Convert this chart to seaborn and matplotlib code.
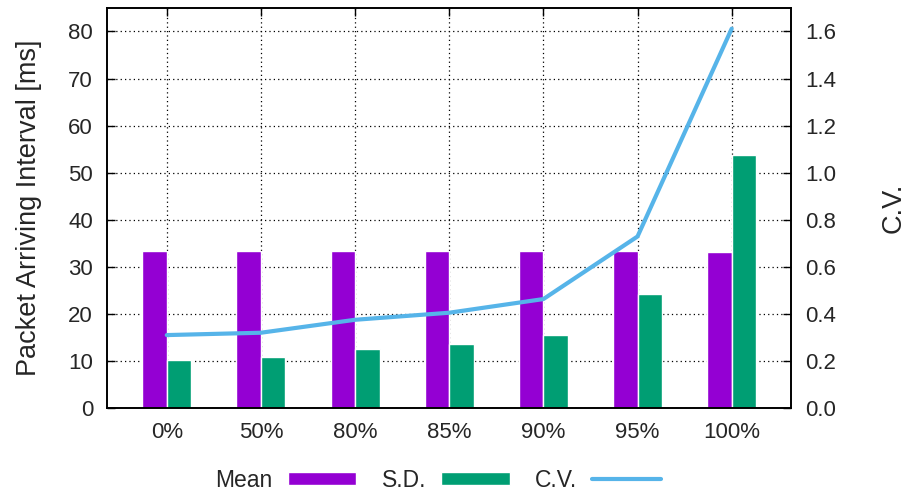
import numpy as np
import pandas as pd
import seaborn as sns
import matplotlib
matplotlib.use('Agg')
import matplotlib.pyplot as plt
from matplotlib.patches import Patch
from matplotlib.lines import Line2D

# Data
loads = ['0%', '50%', '80%', '85%', '90%', '95%', '100%']
mean_ms = [33.3, 33.3, 33.3, 33.3, 33.3, 33.3, 33.2]
sd_ms = [10.3, 10.8, 12.5, 13.6, 15.5, 24.3, 53.7]
cv = [0.31, 0.32, 0.375, 0.405, 0.463, 0.729, 1.612]

colors = {'Mean': '#9400d3', 'S.D.': '#009e73'}
cv_color = '#56b4e9'

df = pd.DataFrame({'load': loads * 2,
                   'value': mean_ms + sd_ms,
                   'metric': ['Mean'] * len(loads) + ['S.D.'] * len(loads)})

sns.set_theme(style='white')
plt.rcParams['font.family'] = ['Liberation Sans', 'DejaVu Sans']
plt.rcParams['font.size'] = 16

fig = plt.figure(figsize=(9.09, 4.97), dpi=100)
ax = fig.add_axes([0.1177, 0.179, 0.7525, 0.805])

sns.barplot(data=df, x='load', y='value', hue='metric', palette=colors,
            width=0.52, saturation=1, ax=ax, legend=False, zorder=2)
ax.set_xlim(-0.635, 6.63)
ax.set_ylim(0, 85)
ax.set_yticks(np.arange(0, 81, 10))
ax.set_xlabel('')
ax.set_ylabel('Packet Arriving Interval [ms]', fontsize=19.5, labelpad=19)
ax.grid(True, color='black', linestyle=(0, (1, 2.5)), linewidth=0.9, zorder=0)
ax.set_axisbelow(True)
ax.tick_params(axis='both', direction='in', length=6, width=1, labelsize=16,
               color='black')
ax.tick_params(axis='x', top=True, pad=10)
ax.tick_params(axis='y', pad=10)
for s in ax.spines.values():
    s.set_linewidth(1.2)
    s.set_color('black')

ax2 = ax.twinx()
sns.lineplot(x=np.arange(len(loads)), y=cv, color=cv_color, linewidth=3,
             ax=ax2, zorder=3)
ax2.set_ylim(0, 1.7)
ax2.set_yticks(np.arange(0, 1.61, 0.2))
ax2.set_yticklabels([f'{v:.1f}' for v in np.arange(0, 1.61, 0.2)])
ax2.set_ylabel('C.V.', fontsize=19.5, labelpad=32)
ax2.tick_params(axis='y', direction='in', length=6, width=1, labelsize=16,
                pad=10, color='black')
for s in ax2.spines.values():
    s.set_linewidth(1.2)
    s.set_color('black')

handles = [Patch(facecolor=colors['Mean'], label='Mean'),
           Patch(facecolor=colors['S.D.'], label='S.D.'),
           Line2D([], [], color=cv_color, linewidth=3, label='C.V.')]
fig.legend(handles=handles, loc='center', bbox_to_anchor=(0.482, 0.034),
           ncol=3, frameon=False, markerfirst=False, handlelength=3.0,
           handleheight=0.55, handletextpad=0.65, columnspacing=1.1,
           fontsize=16.5)

fig.savefig('out.png', dpi=100)
